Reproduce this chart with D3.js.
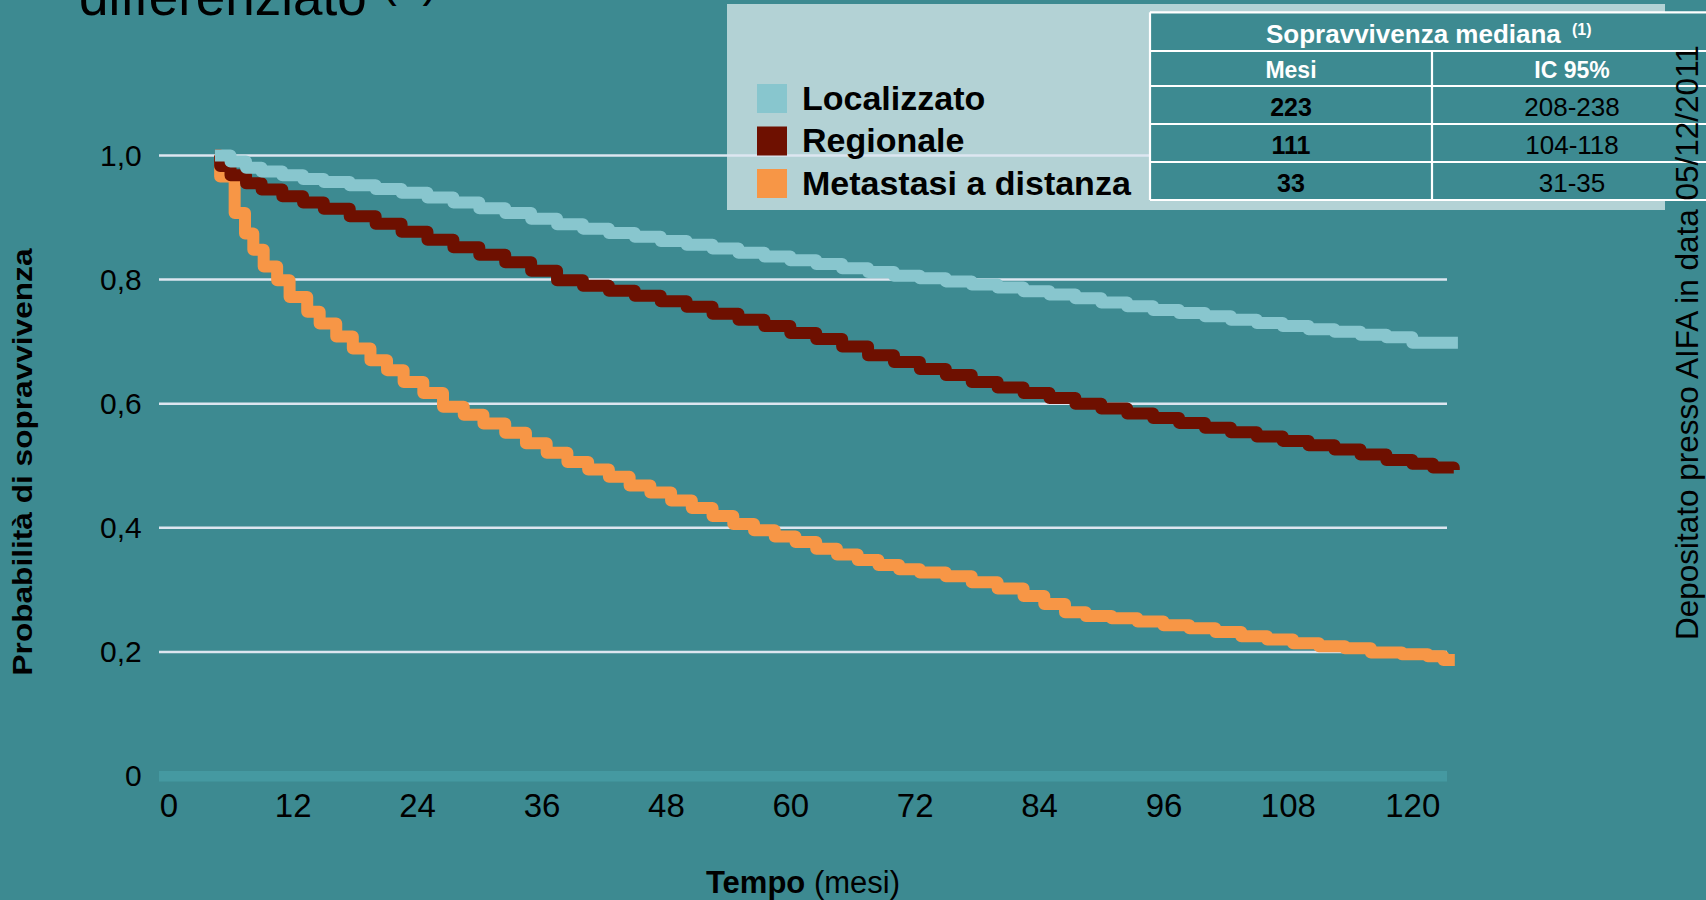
<!DOCTYPE html>
<html>
<head>
<meta charset="utf-8">
<script src="https://cdn.jsdelivr.net/npm/d3@7"></script>
<style>
  html, body { margin: 0; padding: 0; background: #3d8a91; }
  svg { display: block; font-family: "Liberation Sans", Arial, sans-serif; }
</style>
</head>
<body>
<div id="chart"></div>
<script>
// ---- data: [mese, probabilità] at each step ----
const localizzato = [
  [4.5, 1.000], [6.0, 0.990], [7.5, 0.980], [9.0, 0.974], [11.0, 0.968], [13.0, 0.962],
  [15.0, 0.957], [17.5, 0.952], [20.0, 0.946], [22.5, 0.940], [25.0, 0.932], [27.5, 0.924],
  [30.0, 0.915], [32.5, 0.907], [35.0, 0.898], [37.5, 0.889], [40.0, 0.882], [42.5, 0.875],
  [45.0, 0.869], [47.5, 0.862], [50.0, 0.856], [52.5, 0.850], [55.0, 0.843], [57.5, 0.837],
  [60.0, 0.831], [62.5, 0.825], [65.0, 0.818], [67.5, 0.812], [70.0, 0.806], [72.5, 0.802],
  [75.0, 0.797], [77.5, 0.792], [80.0, 0.787], [82.5, 0.781], [85.0, 0.776], [87.5, 0.770],
  [90.0, 0.763], [92.5, 0.757], [95.0, 0.751], [97.5, 0.746], [100.0, 0.741], [102.5, 0.735],
  [105.0, 0.730], [107.5, 0.725], [110.0, 0.720], [112.5, 0.716], [115.0, 0.711], [117.5, 0.707],
  [120.0, 0.698], [124.4, 0.698]
];
const regionale = [
  [4.5, 1.000], [5.0, 0.983], [6.0, 0.968], [7.5, 0.955], [9.0, 0.945], [11.0, 0.934],
  [13.0, 0.924], [15.0, 0.914], [17.5, 0.902], [20.0, 0.890], [22.5, 0.877], [25.0, 0.864],
  [27.5, 0.852], [30.0, 0.840], [32.5, 0.828], [35.0, 0.814], [37.5, 0.799], [40.0, 0.790],
  [42.5, 0.782], [45.0, 0.774], [47.5, 0.765], [50.0, 0.756], [52.5, 0.745], [55.0, 0.735],
  [57.5, 0.725], [60.0, 0.714], [62.5, 0.704], [65.0, 0.692], [67.5, 0.678], [70.0, 0.667],
  [72.5, 0.656], [75.0, 0.646], [77.5, 0.635], [80.0, 0.626], [82.5, 0.617], [85.0, 0.609],
  [87.5, 0.600], [90.0, 0.592], [92.5, 0.584], [95.0, 0.577], [97.5, 0.569], [100.0, 0.561],
  [102.5, 0.554], [105.0, 0.547], [107.5, 0.540], [110.0, 0.533], [112.5, 0.526], [115.0, 0.518],
  [117.5, 0.509], [120.0, 0.503], [122.0, 0.497], [124.0, 0.493]
];
const metastasi = [
  [4.5, 1.000], [5.0, 0.966], [6.4, 0.907], [7.4, 0.874], [8.2, 0.848], [9.2, 0.821],
  [10.5, 0.799], [11.7, 0.772], [13.4, 0.748], [14.6, 0.729], [16.2, 0.708], [17.8, 0.689],
  [19.5, 0.670], [21.1, 0.654], [22.7, 0.635], [24.6, 0.617], [26.5, 0.595], [28.5, 0.582],
  [30.4, 0.568], [32.5, 0.553], [34.5, 0.536], [36.5, 0.521], [38.5, 0.506], [40.5, 0.494],
  [42.5, 0.482], [44.5, 0.468], [46.5, 0.457], [48.5, 0.444], [50.5, 0.432], [52.5, 0.419],
  [54.5, 0.406], [56.5, 0.396], [58.5, 0.386], [60.5, 0.377], [62.5, 0.366], [64.5, 0.357],
  [66.5, 0.348], [68.5, 0.340], [70.5, 0.333], [72.5, 0.328], [75.0, 0.322], [77.5, 0.312],
  [80.0, 0.302], [82.5, 0.290], [84.5, 0.277], [86.5, 0.264], [88.5, 0.258], [91.0, 0.254],
  [93.5, 0.249], [96.0, 0.243], [98.5, 0.238], [101.0, 0.232], [103.5, 0.225], [106.0, 0.220],
  [108.5, 0.214], [111.0, 0.209], [113.5, 0.206], [116.0, 0.199], [119.0, 0.196], [121.5, 0.193],
  [123.0, 0.187], [124.1, 0.187]
];

const xTicks = [0, 12, 24, 36, 48, 60, 72, 84, 96, 108, 120];
const yTicks = [0, 0.2, 0.4, 0.6, 0.8, 1.0];
const yTickLabels = ["0", "0,2", "0,4", "0,6", "0,8", "1,0"];

const seriesNames = ["Localizzato", "Regionale", "Metastasi a distanza"];
const seriesColors = ["#88c6ce", "#6e1000", "#f79646"];

const tableMesi = ["223", "111", "33"];
const tableIC = ["208-238", "104-118", "31-35"];

// ---- layout ----
const W = 1706, H = 900;
const bg = "#3d8a91";

const svg = d3.select("#chart").append("svg")
    .attr("width", W)
    .attr("height", H);

svg.append("rect").attr("width", W).attr("height", H).attr("fill", bg);

const x = d3.scaleLinear().domain([0, 120]).range([168.3, 1412.3]);
const y = d3.scaleLinear().domain([0, 1]).range([776, 155.4]);

// title, cut off at the top edge (as in the slide)
const title = svg.append("text")
    .attr("x", 79).attr("y", 15)
    .style("font-size", "53px")
    .attr("fill", "#000")
    .text("differenziato ");
title.append("tspan").attr("dy", -19).style("font-size", "46px").text("(1)");

// legend panel (behind gridlines)
svg.append("rect")
    .attr("x", 727).attr("y", 4)
    .attr("width", 938).attr("height", 206)
    .attr("fill", "#b3d2d5");

// gridlines
svg.append("g")
    .selectAll("line")
    .data(yTicks.filter(d => d > 0))
    .join("line")
        .attr("x1", 159).attr("x2", 1447)
        .attr("y1", d => y(d)).attr("y2", d => y(d))
        .attr("stroke", "#dde6f0")
        .attr("stroke-width", 2.5);

// zero band
svg.append("rect")
    .attr("x", 159).attr("y", y(0) - 5)
    .attr("width", 1447 - 159).attr("height", 10.5)
    .attr("fill", "#4599a1");

// curves
const line = d3.line()
    .x(d => x(d[0]))
    .y(d => y(d[1]))
    .curve(d3.curveStepAfter);

const curves = [metastasi, regionale, localizzato];
const curveColors = [seriesColors[2], seriesColors[1], seriesColors[0]];
svg.append("g")
    .selectAll("path")
    .data(curves)
    .join("path")
        .attr("d", line)
        .attr("fill", "none")
        .attr("stroke", (d, i) => curveColors[i])
        .attr("stroke-width", 12)
        .attr("stroke-linejoin", "round")
        .attr("stroke-linecap", "butt");

// axes
const xAxis = svg.append("g")
    .attr("transform", "translate(0,793.6)")
    .call(d3.axisBottom(x).tickValues(xTicks).tickSize(0).tickPadding(0));
xAxis.select(".domain").remove();
xAxis.selectAll("text")
    .style("font-size", "33px")
    .style("font-family", "'Liberation Sans', Arial, sans-serif")
    .attr("fill", "#000");

const yAxis = svg.append("g")
    .attr("transform", "translate(141.7,0)")
    .call(d3.axisLeft(y).tickValues(yTicks).tickSize(0).tickPadding(0)
        .tickFormat((d, i) => yTickLabels[i]));
yAxis.select(".domain").remove();
yAxis.selectAll("text")
    .style("font-size", "30px")
    .style("font-family", "'Liberation Sans', Arial, sans-serif")
    .attr("fill", "#000");

// axis titles
svg.append("text")
    .attr("transform", "translate(32,462) rotate(-90)")
    .attr("text-anchor", "middle")
    .attr("textLength", 427)
    .attr("lengthAdjust", "spacingAndGlyphs")
    .style("font-size", "27px")
    .style("font-weight", "bold")
    .text("Probabilità di sopravvivenza");

const xTitle = svg.append("text")
    .attr("x", 803).attr("y", 893)
    .attr("text-anchor", "middle")
    .style("font-size", "31px");
xTitle.append("tspan").style("font-weight", "bold").text("Tempo");
xTitle.append("tspan").text(" (mesi)");

// legend
const legend = svg.append("g")
    .selectAll("g")
    .data(seriesNames)
    .join("g")
        .attr("transform", (d, i) => `translate(757,${84 + i * 42.5})`);
legend.append("rect")
    .attr("width", 30).attr("height", 29)
    .attr("fill", (d, i) => seriesColors[i]);
legend.append("text")
    .attr("x", 45).attr("y", 25.5)
    .style("font-size", "34px")
    .style("font-weight", "bold")
    .text(d => d);

// table
const tL = 1150, tR = 1712, tMid = 1432;
const rowEdges = [12.3, 51, 86, 124, 162, 200];
const table = svg.append("g");
table.append("rect")
    .attr("x", tL).attr("y", rowEdges[0])
    .attr("width", tR - tL).attr("height", rowEdges[5] - rowEdges[0])
    .attr("fill", bg);
table.selectAll("line.h")
    .data(rowEdges)
    .join("line")
        .attr("class", "h")
        .attr("x1", tL).attr("x2", tR)
        .attr("y1", d => d).attr("y2", d => d)
        .attr("stroke", "#fff").attr("stroke-width", 2.2);
table.append("line")
    .attr("x1", tL).attr("x2", tL)
    .attr("y1", rowEdges[0]).attr("y2", rowEdges[5])
    .attr("stroke", "#fff").attr("stroke-width", 2.2);
table.append("line")
    .attr("x1", tMid).attr("x2", tMid)
    .attr("y1", rowEdges[1]).attr("y2", rowEdges[5])
    .attr("stroke", "#fff").attr("stroke-width", 2.2);

const head = table.append("text")
    .attr("x", 1266).attr("y", 43)
    .attr("fill", "#fff")
    .style("font-weight", "bold")
    .style("font-size", "26px")
    .text("Sopravvivenza mediana ");
head.append("tspan").attr("dx", 4).attr("dy", -8).style("font-size", "16px").text("(1)");

table.append("text")
    .attr("x", (tL + tMid) / 2).attr("y", 78)
    .attr("text-anchor", "middle").attr("fill", "#fff")
    .style("font-weight", "bold").style("font-size", "23px")
    .text("Mesi");
table.append("text")
    .attr("x", (tMid + tR) / 2).attr("y", 78)
    .attr("text-anchor", "middle").attr("fill", "#fff")
    .style("font-weight", "bold").style("font-size", "23px")
    .text("IC 95%");

table.selectAll("text.mesi")
    .data(tableMesi)
    .join("text")
        .attr("class", "mesi")
        .attr("x", (tL + tMid) / 2)
        .attr("y", (d, i) => rowEdges[i + 3] - 8)
        .attr("text-anchor", "middle")
        .style("font-weight", "bold").style("font-size", "25px")
        .text(d => d);
table.selectAll("text.ic")
    .data(tableIC)
    .join("text")
        .attr("class", "ic")
        .attr("x", (tMid + tR) / 2)
        .attr("y", (d, i) => rowEdges[i + 3] - 8)
        .attr("text-anchor", "middle")
        .style("font-size", "26px")
        .text(d => d);

// side note
svg.append("text")
    .attr("transform", "translate(1698,640) rotate(-90)")
    .style("font-size", "31.5px")
    .text("Depositato presso AIFA in data 05/12/2011");
</script>
</body>
</html>
